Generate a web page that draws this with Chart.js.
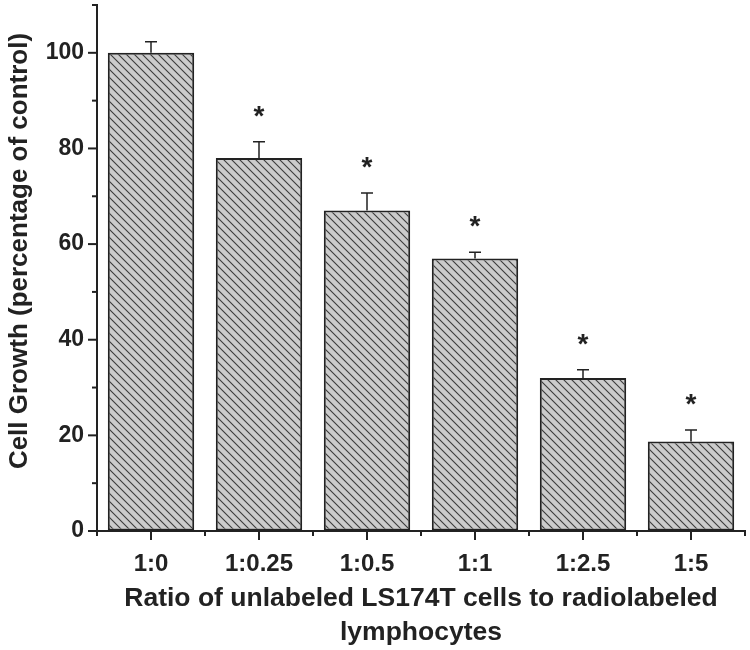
<!DOCTYPE html>
<html>
<head>
<meta charset="utf-8">
<script src="https://cdn.jsdelivr.net/npm/chart.js@4"></script>
<style>
html,body{margin:0;padding:0;background:#fff}
#wrap{width:750px;height:650px}
</style>
</head>
<body>
<div id="wrap"><canvas id="grafico" width="750" height="650"></canvas></div>
<script>
// ---------------- DADOS ----------------
const ratios = ["1:0","1:0.25","1:0.5","1:1","1:2.5","1:5"]
const growth = [100, 78, 67, 57, 32, 18.7]
const errors = [2.3, 3.4, 3.7, 1.3, 1.7, 2.4]
const signif = ["", "*", "*", "*", "*", "*"]
const yTicks = [0, 20, 40, 60, 80, 100]
const yTitulo = "Cell Growth (percentage of control)"

const fonte = "'Liberation Sans', Arial, sans-serif"
const tinta = "#222"

// ---------------- HACHURA ----------------
function hachura(){
const s = 8
const c = document.createElement("canvas")
c.width = s; c.height = s
const g = c.getContext("2d")
g.fillStyle = "#cbcbcb"
g.fillRect(0,0,s,s)
g.strokeStyle = "#3a3a3a"
g.lineWidth = 1.1
;[-s,0,s].forEach(o => {
g.beginPath()
g.moveTo(-1, o-1)
g.lineTo(s+1, o+s+1)
g.stroke()
})
return g.createPattern(c,"repeat")
}

// ---------------- TICKS, ERROS, ASTERISCOS ----------------
const extras = {
id:"extras",
afterDatasetsDraw(chart){
const ctx = chart.ctx
const x = chart.scales.x, y = chart.scales.y
const meta = chart.getDatasetMeta(0)
ctx.save()
ctx.strokeStyle = tinta
ctx.fillStyle = tinta
ctx.lineWidth = 1.5

// barras de erro (só para cima)
meta.data.forEach((bar,i) => {
const top = y.getPixelForValue(growth[i] + errors[i])
ctx.beginPath()
ctx.moveTo(bar.x, bar.y)
ctx.lineTo(bar.x, top)
ctx.moveTo(bar.x-6, top)
ctx.lineTo(bar.x+6, top)
ctx.stroke()
if(signif[i]){
ctx.font = "bold 28px " + fonte
ctx.textAlign = "center"
ctx.textBaseline = "alphabetic"
ctx.fillText(signif[i], bar.x, top - 17)
}
})

// ticks do eixo y (maiores a cada 20, menores a cada 10)
ctx.lineWidth = 2
for(let v=0; v<=110; v+=10){
const py = y.getPixelForValue(v)
const len = v % 20 === 0 ? 9 : 5
ctx.beginPath()
ctx.moveTo(y.right - len, py)
ctx.lineTo(y.right, py)
ctx.stroke()
}

// ticks do eixo x (maiores no centro, menores nas divisas)
const passo = (x.right - x.left) / ratios.length
for(let i=0; i<=ratios.length; i++){
const px = x.left + i*passo
ctx.beginPath()
ctx.moveTo(px, x.top)
ctx.lineTo(px, x.top + 5)
ctx.stroke()
if(i < ratios.length){
const c = x.getPixelForValue(i)
ctx.beginPath()
ctx.moveTo(c, x.top)
ctx.lineTo(c, x.top + 9)
ctx.stroke()
}
}

// titulo do eixo y (um pouco acima do centro, como no original)
ctx.translate(20, 251)
ctx.rotate(-Math.PI/2)
ctx.font = "bold 26px " + fonte
ctx.textAlign = "center"
ctx.textBaseline = "middle"
ctx.fillText(yTitulo, 0, 0)
ctx.restore()
}
}

// ---------------- GRAFICO ----------------
new Chart(document.getElementById("grafico"),{
type:"bar",
data:{
labels:ratios,
datasets:[{
data:growth,
backgroundColor:hachura(),
borderColor:tinta,
borderWidth:2,
borderSkipped:false,
barPercentage:0.8,
categoryPercentage:1
}]
},
options:{
responsive:false,
animation:false,
layout:{autoPadding:false,padding:{top:5,right:5,left:0,bottom:0}},
plugins:{legend:{display:false},tooltip:{enabled:false}},
scales:{
x:{
grid:{display:true,drawOnChartArea:false,color:"rgba(0,0,0,0)",tickLength:9},
border:{display:true,color:tinta,width:2},
ticks:{color:tinta,font:{family:fonte,size:24,weight:"bold"},padding:10,maxRotation:0},
title:{
display:true,
text:["Ratio of unlabeled LS174T cells to radiolabeled","lymphocytes"],
color:tinta,
font:{family:fonte,size:26.5,weight:"bold",lineHeight:1.28},
padding:{top:0,bottom:0}
},
afterFit(s){ s.height = 119; s.paddingLeft = 0; s.paddingRight = 0 }
},
y:{
min:0,
max:110,
afterBuildTicks(s){ s.ticks = yTicks.map(v => ({value:v})) },
grid:{display:true,drawOnChartArea:false,color:"rgba(0,0,0,0)",tickLength:9},
border:{display:true,color:tinta,width:2},
ticks:{color:tinta,font:{family:fonte,size:23,weight:"bold"},padding:4},
afterFit(s){ s.width = 97; s.paddingTop = 0; s.paddingBottom = 0 }
}
}
},
plugins:[extras]
})
</script>
</body>
</html>
